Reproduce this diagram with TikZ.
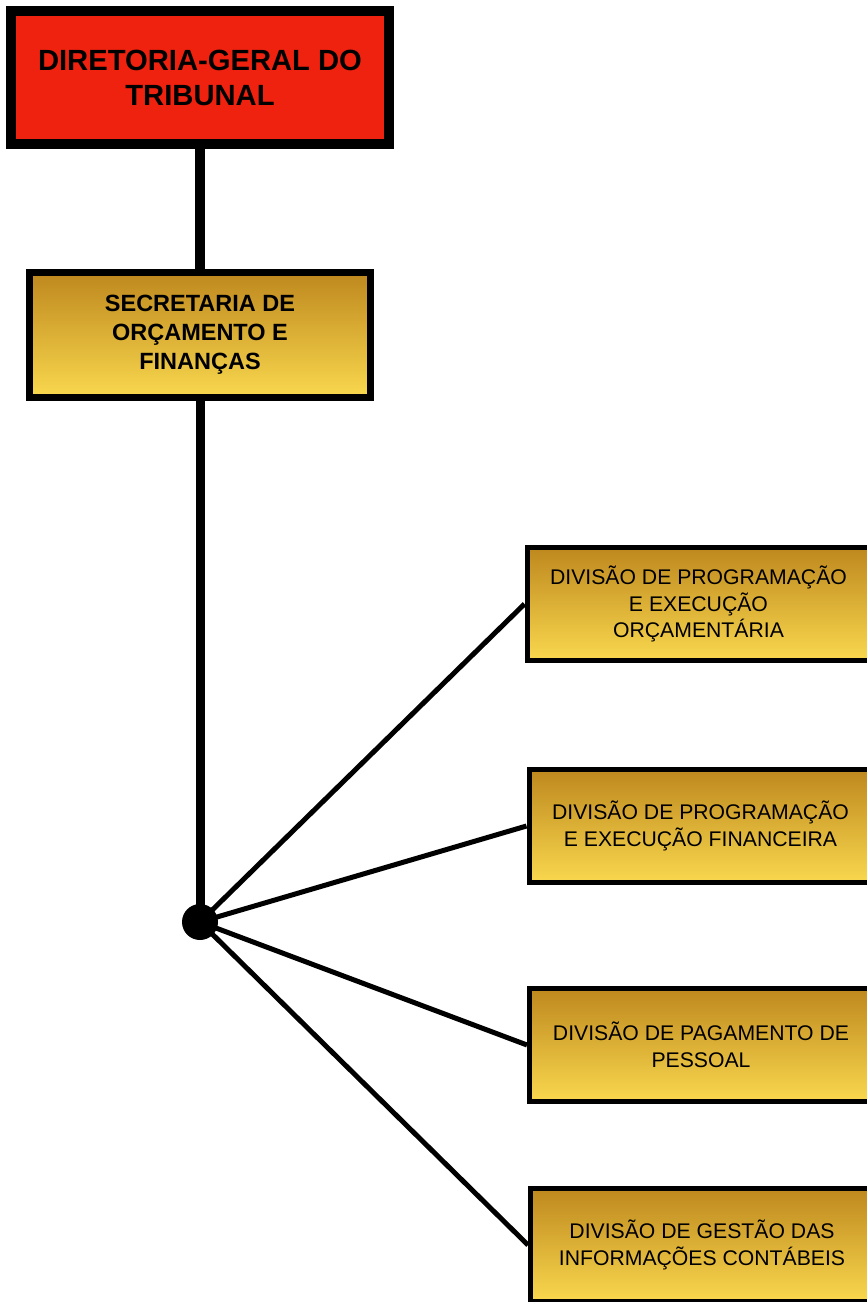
\documentclass[tikz,border=0pt]{standalone}
\usepackage{fontspec}
\setmainfont{Liberation Sans}
\definecolor{redbox}{RGB}{238,34,14}
\definecolor{goldtop}{RGB}{190,136,30}
\definecolor{goldbot}{RGB}{249,216,78}
\begin{document}
\begin{tikzpicture}[x=1pt,y=-1pt,
  topbox/.style={draw=black,line width=10pt,fill=redbox,minimum width=378pt,minimum height=133pt,
    align=center,inner sep=0pt,font=\fontsize{29.2}{35}\selectfont\bfseries},
  secbox/.style={draw=black,line width=7pt,top color=goldtop,bottom color=goldbot,shading angle=0,
    minimum width=341pt,minimum height=125pt,align=center,inner sep=0pt,
    font=\fontsize{23.5}{29}\selectfont\bfseries},
  divbox/.style={draw=black,line width=5pt,top color=goldtop,bottom color=goldbot,
    minimum width=343pt,minimum height=113pt,align=center,inner sep=0pt,
    font=\fontsize{21.2}{26.5}\selectfont},
  link/.style={line width=5pt,draw=black}]
\useasboundingbox (0,0) rectangle (867,1302);
\clip (0,0) rectangle (867,1302);
\fill[white] (0,0) rectangle (867,1302);
\node[topbox] (dg) at (200,77.5) {DIRETORIA-GERAL DO\\TRIBUNAL};
\node[secbox] (sof) at (200,335) {SECRETARIA DE\\ORÇAMENTO E\\FINANÇAS};
\node[divbox] (d1) at (698.5,604) {DIVISÃO DE PROGRAMAÇÃO\\E EXECUÇÃO\\ORÇAMENTÁRIA};
\node[divbox] (d2) at (700.5,826) {DIVISÃO DE PROGRAMAÇÃO\\E EXECUÇÃO FINANCEIRA};
\node[divbox] (d3) at (701,1045) {DIVISÃO DE PAGAMENTO DE\\PESSOAL};
\node[divbox] (d4) at (702,1245) {DIVISÃO DE GESTÃO DAS\\INFORMAÇÕES CONTÁBEIS};
\node[circle,fill=black,minimum size=36pt,inner sep=0pt] (dot) at (200,922) {};
\draw[line width=10pt] (dg.south) -- (sof.north);
\draw[line width=9pt] (sof.south) -- (dot.center);
\draw[link] (dot.center) -- (d1.west);
\draw[link] (dot.center) -- (d2.west);
\draw[link] (dot.center) -- (d3.west);
\draw[link] (dot.center) -- (d4.west);
\end{tikzpicture}
\end{document}
